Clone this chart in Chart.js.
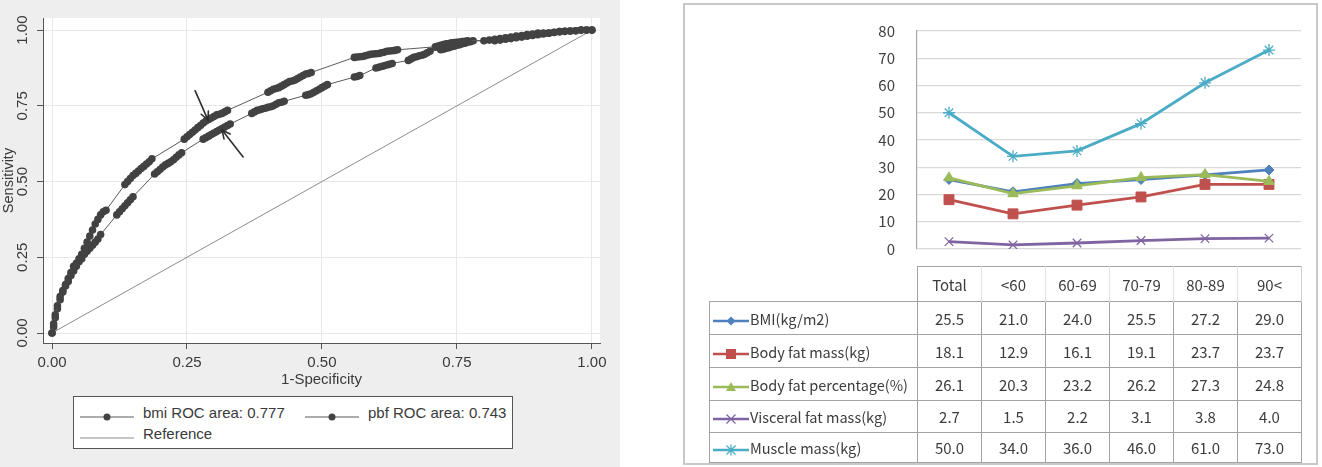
<!DOCTYPE html>
<html><head><meta charset="utf-8">
<script src="https://cdn.jsdelivr.net/npm/chart.js@4.4.1/dist/chart.umd.min.js"></script>
<style>
html,body{margin:0;padding:0;background:#fff;width:1322px;height:467px;overflow:hidden;}
body{position:relative;font-family:"Liberation Sans",Arial,sans-serif;}
#leftWrap{position:absolute;left:0;top:0;width:620px;height:467px;background:#eeeeee;}
#roc{position:absolute;left:0;top:0;}
#rocLegend{position:absolute;left:73px;top:396px;width:440px;height:53px;box-sizing:border-box;border:1px solid #555;background:#fff;font-size:15px;color:#3a3a3a;}
.lg{position:absolute;white-space:nowrap;line-height:18px;}
.lgs{position:absolute;}
#rightPanel{position:absolute;left:683px;top:3px;width:635px;height:462px;box-sizing:border-box;border:2px solid #c8c8c8;}
#lineChart{position:absolute;left:683px;top:0;}
#tbl{position:absolute;left:709px;top:266px;border-collapse:collapse;table-layout:fixed;font-family:"Noto Sans CJK KR","Noto Sans",sans-serif;color:#3c3c3c;font-size:15px;}
#tbl td{padding:0;text-align:center;vertical-align:middle;white-space:nowrap;overflow:hidden;}
#tbl td.lab{text-align:left;font-size:14.5px;padding-left:3px;}
#tbl td.lab svg{vertical-align:middle;margin-right:1px;}
</style>
</head><body>
<div id="leftWrap"><canvas id="roc" width="620" height="467"></canvas>
<div id="rocLegend"></div></div>
<div id="rightPanel"></div>
<canvas id="lineChart" width="635" height="280"></canvas>
<table id="tbl"></table>
<script>
// ---------- Left: ROC curves ----------
const rocTicks = [0, 0.25, 0.5, 0.75, 1];
const bmiRoc = [
 [0,0],[0.003,0.03],[0.006,0.06],[0.01,0.09],[0.015,0.12],[0.02,0.14],[0.025,0.16],[0.03,0.18],[0.035,0.2],[0.04,0.22],
 [0.045,0.23],[0.05,0.245],[0.055,0.26],[0.06,0.28],[0.065,0.3],[0.07,0.32],[0.075,0.34],[0.08,0.36],[0.085,0.375],[0.09,0.39],[0.095,0.4],[0.1,0.405],
 [0.135,0.49],[0.14,0.5],[0.145,0.51],[0.15,0.52],[0.155,0.527],[0.16,0.535],[0.165,0.543],[0.17,0.55],[0.175,0.558],[0.18,0.565],[0.185,0.575],
 [0.245,0.64],[0.25,0.648],[0.255,0.655],[0.26,0.663],[0.265,0.67],[0.27,0.678],[0.275,0.685],[0.28,0.693],[0.285,0.7],[0.29,0.705],[0.295,0.71],[0.3,0.715],[0.305,0.72],[0.31,0.722],[0.315,0.725],[0.32,0.73],[0.325,0.735],
 [0.4,0.795],[0.405,0.8],[0.41,0.805],[0.415,0.807],[0.42,0.81],[0.425,0.815],[0.43,0.82],[0.435,0.825],[0.44,0.83],[0.445,0.832],[0.45,0.835],[0.455,0.84],[0.46,0.845],[0.465,0.85],[0.47,0.855],[0.475,0.857],[0.48,0.86],
 [0.56,0.91],[0.565,0.911],[0.57,0.912],[0.575,0.913],[0.58,0.915],[0.585,0.918],[0.59,0.92],[0.595,0.921],[0.6,0.922],[0.605,0.923],[0.61,0.925],[0.615,0.927],[0.62,0.93],[0.625,0.931],[0.63,0.932],[0.635,0.933],[0.64,0.935],
 [0.71,0.945],[0.715,0.947],[0.72,0.95],[0.725,0.952],[0.73,0.955],[0.735,0.956],[0.74,0.958],[0.745,0.959],[0.75,0.96],[0.755,0.961],[0.76,0.962],[0.765,0.963],[0.77,0.965],
 [0.8,0.965],[0.81,0.967],[0.82,0.97],[0.83,0.972],[0.84,0.975],[0.85,0.977],[0.86,0.98],[0.87,0.982],[0.88,0.985],[0.89,0.987],[0.9,0.99],[0.91,0.99],[0.92,0.99],[0.93,0.993],[0.94,0.995],[0.95,0.996],[0.96,0.997],[0.97,0.998],[0.98,1],[0.99,1],[1,1]
];
const pbfRoc = [
 [0,0],[0.003,0.02],[0.006,0.05],[0.01,0.08],[0.015,0.11],[0.02,0.135],[0.025,0.155],[0.03,0.17],[0.035,0.19],[0.04,0.205],
 [0.045,0.22],[0.05,0.235],[0.055,0.245],[0.06,0.26],[0.065,0.27],[0.07,0.28],[0.075,0.29],[0.08,0.3],[0.085,0.31],[0.09,0.325],
 [0.12,0.39],[0.125,0.4],[0.13,0.41],[0.135,0.42],[0.14,0.43],[0.145,0.44],[0.15,0.45],
 [0.19,0.525],[0.195,0.532],[0.2,0.54],[0.205,0.548],[0.21,0.555],[0.215,0.56],[0.22,0.565],[0.225,0.572],[0.23,0.58],[0.235,0.588],[0.24,0.595],
 [0.28,0.64],[0.285,0.645],[0.29,0.65],[0.295,0.655],[0.3,0.66],[0.305,0.665],[0.31,0.67],[0.315,0.675],[0.32,0.68],[0.325,0.685],[0.33,0.69],
 [0.37,0.725],[0.375,0.73],[0.38,0.735],[0.385,0.737],[0.39,0.74],[0.395,0.742],[0.4,0.745],[0.405,0.747],[0.41,0.75],[0.415,0.755],[0.42,0.76],[0.425,0.762],[0.43,0.765],
 [0.47,0.785],[0.475,0.787],[0.48,0.79],[0.485,0.795],[0.49,0.8],[0.495,0.805],[0.5,0.81],[0.505,0.815],[0.51,0.82],
 [0.56,0.845],[0.565,0.847],[0.57,0.85],
 [0.6,0.875],[0.605,0.877],[0.61,0.88],[0.615,0.882],[0.62,0.885],[0.625,0.887],[0.63,0.89],
 [0.66,0.9],[0.665,0.905],[0.67,0.91],[0.675,0.912],[0.68,0.915],[0.685,0.917],[0.69,0.92],[0.695,0.925],[0.7,0.93],
 [0.72,0.935],[0.725,0.937],[0.73,0.94],[0.735,0.942],[0.74,0.945],[0.745,0.947],[0.75,0.95],[0.755,0.952],[0.76,0.955],[0.765,0.957],[0.77,0.96],[0.775,0.962],[0.78,0.965],
 [0.82,0.965],[0.83,0.967],[0.84,0.97],[0.85,0.972],[0.86,0.975],[0.87,0.977],[0.88,0.98],[0.89,0.982],[0.9,0.985],[0.91,0.987],[0.92,0.99],[0.93,0.992],[0.94,0.995],[0.95,0.996],[0.96,0.997],[0.97,0.998],[0.98,1],[0.99,1],[1,1]
];
const refLine = [[0,0],[1,1]];
const rocArrows = [
 {from:[0.265,0.80], to:[0.289,0.703]},
 {from:[0.354,0.581], to:[0.315,0.67]}
];
const rocLegendLabels = ['bmi ROC area: 0.777','pbf ROC area: 0.743','Reference'];

// ---------- Right: line chart + table ----------
const categories = ['Total','<60','60-69','70-79','80-89','90<'];
const seriesNames = ['BMI(kg/m2)','Body fat mass(kg)','Body fat percentage(%)','Visceral fat mass(kg)','Muscle mass(kg)'];
const bmiVals = [25.5,21.0,24.0,25.5,27.2,29.0];
const fatMassVals = [18.1,12.9,16.1,19.1,23.7,23.7];
const fatPctVals = [26.1,20.3,23.2,26.2,27.3,24.8];
const visceralVals = [2.7,1.5,2.2,3.1,3.8,4.0];
const muscleVals = [50.0,34.0,36.0,46.0,61.0,73.0];
const lineTicks = [0,10,20,30,40,50,60,70,80];

const LF = '"Liberation Sans", Arial, sans-serif';
const txt = '#3a3a3a';
const toXY = a => a.map(([x,y]) => ({x, y}));

const bgPlugin = {
  id:'bg',
  beforeDraw(c){
    const {ctx, chartArea:a} = c;
    ctx.save(); ctx.fillStyle = '#ffffff';
    ctx.fillRect(a.left, a.top, a.right - a.left, a.bottom - a.top);
    ctx.restore();
  }
};
const arrowPlugin = {
  id:'arrows',
  afterDatasetsDraw(c){
    const {ctx, scales:{x, y}} = c;
    ctx.save(); ctx.strokeStyle = '#2e2e2e'; ctx.lineWidth = 1.6; ctx.lineCap = 'round';
    rocArrows.forEach(a => {
      const x0 = x.getPixelForValue(a.from[0]), y0 = y.getPixelForValue(a.from[1]);
      const x1 = x.getPixelForValue(a.to[0]), y1 = y.getPixelForValue(a.to[1]);
      ctx.beginPath(); ctx.moveTo(x0, y0); ctx.lineTo(x1, y1); ctx.stroke();
      const ang = Math.atan2(y1 - y0, x1 - x0), L = 9, s = 0.45;
      ctx.beginPath();
      ctx.moveTo(x1 - L*Math.cos(ang - s), y1 - L*Math.sin(ang - s));
      ctx.lineTo(x1, y1);
      ctx.lineTo(x1 - L*Math.cos(ang + s), y1 - L*Math.sin(ang + s));
      ctx.stroke();
    });
    ctx.restore();
  }
};

new Chart(document.getElementById('roc'), {
  type:'scatter',
  data:{datasets:[
    {label:rocLegendLabels[0], data:toXY(bmiRoc), showLine:true, borderColor:'#5a5a5a', borderWidth:1,
     pointRadius:3.8, pointBackgroundColor:'#424242', pointBorderWidth:0, order:1},
    {label:rocLegendLabels[1], data:toXY(pbfRoc), showLine:true, borderColor:'#5a5a5a', borderWidth:1,
     pointRadius:3.8, pointBackgroundColor:'#424242', pointBorderWidth:0, order:2},
    {label:rocLegendLabels[2], data:toXY(refLine), showLine:true, borderColor:'#8c8c8c', borderWidth:1,
     pointRadius:0, order:3}
  ]},
  options:{
    responsive:false, animation:false,
    layout:{padding:{top:18, right:20, left:0, bottom:0}},
    plugins:{legend:{display:false}, tooltip:{enabled:false}},
    scales:{
      x:{type:'linear', min:-0.0167, max:1.015,
         afterBuildTicks:s => { s.ticks = rocTicks.map(v => ({value:v})); },
         ticks:{callback:v => Number(v).toFixed(2), maxRotation:0, minRotation:0, padding:5,
                font:{size:15, family:LF}, color:txt},
         grid:{color:'#e8e8e8', tickColor:'#555', tickLength:6},
         border:{color:'#555', width:1},
         title:{display:true, text:'1-Specificity', padding:{top:0, bottom:78}, font:{size:15, family:LF}, color:txt},
         afterFit:s => { s.height = 124; }},
      y:{type:'linear', min:-0.033, max:1.04,
         afterBuildTicks:s => { s.ticks = rocTicks.map(v => ({value:v})); },
         ticks:{callback:v => Number(v).toFixed(2), minRotation:90, maxRotation:90, crossAlign:'center', padding:0,
                font:{size:15, family:LF}, color:txt},
         grid:{color:'#e8e8e8', tickColor:'#555', tickLength:6},
         border:{color:'#555', width:1},
         title:{display:true, text:'Sensitivity', padding:{top:0, bottom:0}, font:{size:14.5, family:LF}, color:txt},
         afterFit:s => { s.width = 43; }}
    }
  },
  plugins:[bgPlugin, arrowPlugin]
});

// ROC legend (HTML, text from arrays)
(function(){
  const box = document.getElementById('rocLegend');
  const sample = (left, top, dot, color) => {
    const d = document.createElement('div'); d.className = 'lgs';
    d.style.left = left + 'px'; d.style.top = top + 'px';
    d.innerHTML = '<svg width="54" height="10"><line x1="0" y1="5" x2="54" y2="5" stroke="' + color + '" stroke-width="1"/>' +
      (dot ? '<circle cx="27" cy="5" r="3.5" fill="#424242"/>' : '') + '</svg>';
    box.appendChild(d);
  };
  const label = (left, top, t) => {
    const d = document.createElement('div'); d.className = 'lg';
    d.style.left = left + 'px'; d.style.top = top + 'px'; d.textContent = t; box.appendChild(d);
  };
  sample(6, 11, true, '#5a5a5a'); label(69, 7, rocLegendLabels[0]);
  sample(231, 11, true, '#5a5a5a'); label(294, 7, rocLegendLabels[1]);
  sample(6, 32, false, '#8c8c8c'); label(69, 28, rocLegendLabels[2]);
})();

// ---------- Right line chart ----------
const KF = '"Noto Sans CJK KR", "Noto Sans", sans-serif';
const seriesVals = [bmiVals, fatMassVals, fatPctVals, visceralVals, muscleVals];
const seriesColors = ['#4F81BD','#C0504D','#9BBB59','#8064A2','#4BACC6'];
const seriesPoint = [
  {style:'rectRot', r:5, bw:1},
  {style:'rect', r:7, bw:1},
  {style:'triangle', r:6, bw:1},
  {style:'crossRot', r:6, bw:1.3},
  {style:'star', r:6, bw:1.3}
];

new Chart(document.getElementById('lineChart'), {
  type:'line',
  data:{labels:categories, datasets:seriesVals.map((v, i) => ({
    label:seriesNames[i], data:v, borderColor:seriesColors[i], backgroundColor:seriesColors[i],
    borderWidth:2.8, pointStyle:seriesPoint[i].style, pointRadius:seriesPoint[i].r,
    pointBorderWidth:seriesPoint[i].bw, pointBackgroundColor:seriesColors[i], pointBorderColor:seriesColors[i],
    tension:0, order:5 - i
  }))},
  options:{
    responsive:false, animation:false,
    layout:{padding:{top:24, right:17, bottom:14, left:0}},
    plugins:{legend:{display:false}, tooltip:{enabled:false}},
    scales:{
      x:{display:false, offset:true},
      y:{min:0, max:80,
         afterBuildTicks:s => { s.ticks = lineTicks.map(v => ({value:v})); },
         ticks:{padding:22, font:{size:15, family:KF}, color:'#404040'},
         grid:{color:'#d9d9d9', drawTicks:false, lineWidth:1.2},
         border:{color:'#a6a6a6', width:1.2},
         afterFit:s => { s.width = 234; }}
    }
  }
});

// ---------- Data table ----------
(function(){
  const tbl = document.getElementById('tbl');
  const rowH = [35, 33, 33, 33, 32, 30];
  const dark = '1px solid #a3a3a3', faint = '1px solid #e2e2e2';
  const cg = document.createElement('colgroup');
  [208, 64, 64, 64, 64, 64, 64].forEach(w => { const c = document.createElement('col'); c.style.width = w + 'px'; cg.appendChild(c); });
  tbl.appendChild(cg);
  const hr = document.createElement('tr'); hr.style.height = rowH[0] + 'px';
  const blank = document.createElement('td'); hr.appendChild(blank);
  categories.forEach((c, j) => {
    const td = document.createElement('td'); td.textContent = c;
    td.style.borderTop = dark;
    td.style.borderLeft = j === 0 ? dark : faint;
    td.style.borderRight = j === categories.length - 1 ? '1px solid #d0d0d0' : faint;
    hr.appendChild(td);
  });
  tbl.appendChild(hr);
  const shapes = [
    c => '<polygon points="18,2.5 22.5,7 18,11.5 13.5,7" fill="' + c + '"/>',
    c => '<rect x="13" y="2" width="10" height="10" fill="' + c + '"/>',
    c => '<polygon points="18,2 23,11 13,11" fill="' + c + '"/>',
    c => '<path d="M13.5,2.5 L22.5,11.5 M22.5,2.5 L13.5,11.5" stroke="' + c + '" stroke-width="1.3"/>',
    c => '<path d="M13.5,2.5 L22.5,11.5 M22.5,2.5 L13.5,11.5 M18,1.5 L18,12.5" stroke="' + c + '" stroke-width="1.3"/>'
  ];
  seriesVals.forEach((vals, i) => {
    const tr = document.createElement('tr'); tr.style.height = rowH[i + 1] + 'px';
    const lab = document.createElement('td'); lab.className = 'lab';
    lab.style.border = dark;
    lab.innerHTML = '<svg width="36" height="14"><line x1="0" y1="7" x2="36" y2="7" stroke="' + seriesColors[i] +
      '" stroke-width="2.6"/>' + shapes[i](seriesColors[i]) + '</svg>';
    lab.appendChild(document.createTextNode(seriesNames[i]));
    tr.appendChild(lab);
    vals.forEach(v => {
      const td = document.createElement('td'); td.textContent = v.toFixed(1); td.style.border = dark; tr.appendChild(td);
    });
    tbl.appendChild(tr);
  });
})();
</script>
</body></html>
